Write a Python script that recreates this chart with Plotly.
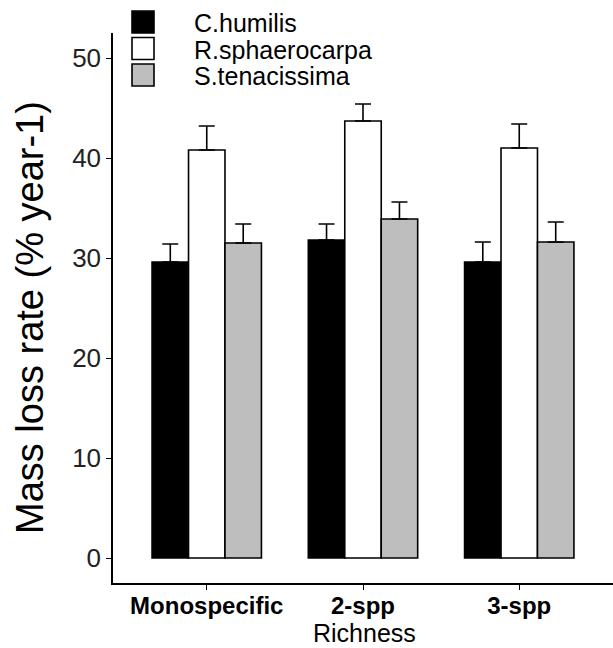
import plotly.graph_objects as go

# Mean mass loss rate (% per year) with upper standard-error bars
richness = ["Monospecific", "2-spp", "3-spp"]
species = ["C.humilis", "R.sphaerocarpa", "S.tenacissima"]
fills = ["#000000", "#FFFFFF", "#BEBEBE"]

c_humilis = [29.6, 31.8, 29.6]
r_sphaerocarpa = [40.8, 43.7, 41.0]
s_tenacissima = [31.5, 33.9, 31.6]

c_humilis_se = [1.8, 1.6, 2.0]
r_sphaerocarpa_se = [2.4, 1.7, 2.4]
s_tenacissima_se = [1.9, 1.7, 2.0]

means = [c_humilis, r_sphaerocarpa, s_tenacissima]
errors = [c_humilis_se, r_sphaerocarpa_se, s_tenacissima_se]

FONT = "Arial, Liberation Sans, sans-serif"

fig = go.Figure()
for name, col, m, e in zip(species, fills, means, errors):
    fig.add_trace(go.Bar(
        x=richness, y=m, name=name,
        marker=dict(color=col, line=dict(color="black", width=1.6)),
        error_y=dict(type="data", array=e, arrayminus=[0] * len(e),
                     symmetric=False, color="black", thickness=1.6, width=8),
        showlegend=False,
    ))

# plot area in pixels: x 113..613, y 33..583
W, H = 613, 648
L, R, T, B = 113, 0, 33, 65
pw, ph = W - L - R, H - T - B

def px(x):
    return (x - L) / pw

def py(y):
    return (H - B - y) / ph

shapes = []
annotations = []
# legend keys and labels
key_tops = [11, 37.5, 64]
for top, col, name in zip(key_tops, fills, species):
    shapes.append(dict(type="rect", xref="paper", yref="paper",
                       x0=px(132), x1=px(154), y0=py(top + 22), y1=py(top),
                       fillcolor=col, line=dict(color="black", width=1.6)))
    annotations.append(dict(xref="paper", yref="paper", x=px(192), y=py(top + 12),
                            text=name, showarrow=False, xanchor="left", yanchor="middle",
                            font=dict(family=FONT, size=25, color="black")))

annotations.append(dict(xref="paper", yref="paper", x=px(30), y=py(318),
                        text="Mass loss rate (% year-1)", textangle=-90, showarrow=False,
                        xanchor="center", yanchor="middle",
                        font=dict(family=FONT, size=38, color="black")))
annotations.append(dict(xref="paper", yref="paper", x=px(364), y=py(633),
                        text="Richness", showarrow=False,
                        xanchor="center", yanchor="middle",
                        font=dict(family=FONT, size=25, color="black")))

fig.update_layout(
    width=W, height=H,
    margin=dict(l=L, r=R, t=T, b=B),
    paper_bgcolor="white", plot_bgcolor="white",
    barmode="group", bargap=0.3, bargroupgap=0,
    shapes=shapes, annotations=annotations,
    font=dict(family=FONT, color="black"),
)
fig.update_xaxes(
    range=[-0.6, 2.6], showline=True, linecolor="black", linewidth=1.5,
    ticks="outside", ticklen=5, tickcolor="black", tickwidth=1.2,
    ticklabelstandoff=-5,
    tickfont=dict(family=FONT, size=24, color="black", weight="bold"),
    showgrid=False, zeroline=False,
)
fig.update_yaxes(
    range=[-2.5, 52.5], tickvals=[0, 10, 20, 30, 40, 50],
    showline=True, linecolor="black", linewidth=1.5,
    ticks="outside", ticklen=5, tickcolor="black", tickwidth=1.2,
    tickfont=dict(family=FONT, size=26, color="#222222"),
    showgrid=False, zeroline=False,
)

fig.write_html("out.html")
